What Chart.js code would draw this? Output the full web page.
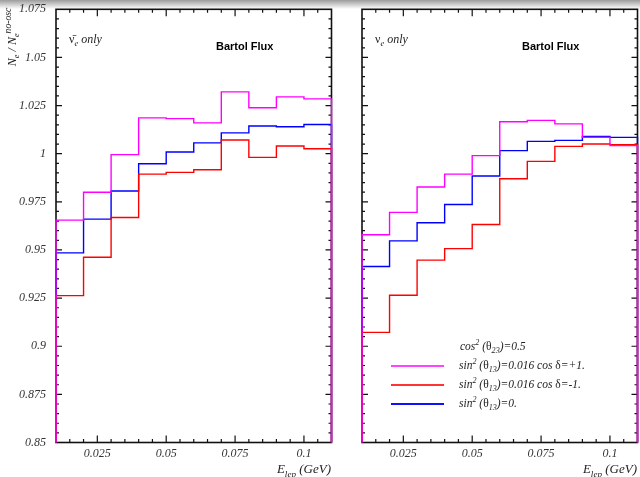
<!DOCTYPE html>
<html>
<head>
<meta charset="utf-8">
<script src="https://cdn.jsdelivr.net/npm/chart.js@4.4.0/dist/chart.umd.min.js"></script>
<style>
  body{margin:0;background:#fff;}
  #wrap{position:relative;width:640px;height:477px;overflow:hidden;font-family:"Liberation Serif",serif;color:#222;}
  #shade{position:absolute;left:0;top:0;width:640px;height:9px;background:linear-gradient(#9c9c9c,#fff);}
  canvas{position:absolute;top:0;}
  .lbl{position:absolute;white-space:nowrap;font-style:italic;line-height:1;}
  .lbl sub,.lbl sup{font-size:70%;line-height:0;}
  .up{font-style:normal;}
  .flux{position:absolute;white-space:nowrap;font-family:"Liberation Sans",sans-serif;font-weight:bold;font-size:11px;line-height:1;color:#000;}
  .key{position:absolute;height:2px;width:53px;}
</style>
</head>
<body>
<div id="wrap">
  <div id="shade"></div>
  <canvas id="left_panel" width="340" height="477" style="left:0"></canvas>
  <canvas id="right_panel" width="300" height="477" style="left:340px"></canvas>

  <div class="lbl" style="left:12px;top:37px;font-size:12px;transform:translate(-50%,-50%) rotate(-90deg);">N<sub>e</sub> / N<sub>e</sub><sup style="font-size:80%">no-osc</sup></div>

  <div class="lbl" style="left:69px;top:33px;font-size:12px;"><span class="up">&#957;&#772;</span><sub>e</sub> only</div>
  <div class="lbl" style="left:375px;top:33px;font-size:12px;"><span class="up">&#957;</span><sub>e</sub> only</div>

  <div class="flux" style="left:216px;top:41px;">Bartol Flux</div>
  <div class="flux" style="left:522px;top:41px;">Bartol Flux</div>

  <div class="lbl" style="right:309px;top:462px;font-size:13px;">E<sub>lep</sub> (GeV)</div>
  <div class="lbl" style="right:3px;top:462px;font-size:13px;">E<sub>lep</sub> (GeV)</div>

  <div class="lbl" style="left:460px;top:341px;font-size:11.5px;">cos<sup>2</sup> (<span class="up">&#952;</span><sub>23</sub>)=0.5</div>
  <div class="key" style="left:391px;top:365px;background:#ff44ff;"></div>
  <div class="lbl" style="left:459px;top:360px;font-size:11.5px;">sin<sup>2</sup> (<span class="up">&#952;</span><sub>13</sub>)=0.016 cos <span class="up">&#948;</span>=+1.</div>
  <div class="key" style="left:391px;top:384px;background:#ff3333;"></div>
  <div class="lbl" style="left:459px;top:379px;font-size:11.5px;">sin<sup>2</sup> (<span class="up">&#952;</span><sub>13</sub>)=0.016 cos <span class="up">&#948;</span>=-1.</div>
  <div class="key" style="left:391px;top:403px;background:#1010ff;"></div>
  <div class="lbl" style="left:459px;top:398px;font-size:11.5px;">sin<sup>2</sup> (<span class="up">&#952;</span><sub>13</sub>)=0.</div>
</div>

<script>
// bin edges of the lepton energy histogram (GeV)
const binEdges = [0.01,0.02,0.03,0.04,0.05,0.06,0.07,0.08,0.09,0.10,0.11];

// anti-nu_e only
const antiPlus  = [0.9655,0.980,0.9995,1.0186,1.0182,1.016,1.0321,1.0239,1.0295,1.0285];
const antiMinus = [0.9263,0.9462,0.9669,0.9894,0.9903,0.9917,1.0071,0.9981,1.004,1.0026];
const antiZero  = [0.9485,0.966,0.9806,0.9948,1.0009,1.0056,1.0108,1.0144,1.014,1.0152];

// nu_e only
const nuPlus  = [0.9579,0.9695,0.9827,0.9894,0.999,1.0166,1.0173,1.0155,1.0085,1.0042];
const nuMinus = [0.9072,0.9265,0.9447,0.9507,0.9632,0.987,0.996,1.0038,1.005,1.0047];
const nuZero  = [0.9414,0.9547,0.9641,0.9736,0.9884,1.0016,1.0064,1.0069,1.009,1.0085];

const xTicks = [0.025,0.05,0.075,0.1];
const xTickLabels = ['0.025','0.05','0.075','0.1'];
const yTicks = [0.85,0.875,0.9,0.925,0.95,0.975,1,1.025,1.05,1.075];
const yTickLabels = ['0.85','0.875','0.9','0.925','0.95','0.975','1','1.025','1.05','1.075'];

const xMin = 0.01, xMax = 0.11, yMin = 0.85, yMax = 1.075;

// histogram outline: start and end on the frame like ROOT does
function steps(vals){
    let pts = [{x:binEdges[0], y:yMin}];
    vals.forEach(function(v,i){ pts.push({x:binEdges[i], y:v}); });
    pts.push({x:binEdges[vals.length], y:vals[vals.length-1]});
    pts.push({x:binEdges[vals.length], y:yMin});
    return pts;
}

// frame with inward ticks on all four sides
const frameTicks = {
    id:'frameTicks',
    beforeDatasetsDraw:function(chart){
        let ctx = chart.ctx, a = chart.chartArea;
        let xs = chart.scales.x, ys = chart.scales.y;
        ctx.save();
        ctx.strokeStyle = '#111';
        ctx.lineWidth = 1.6;
        ctx.strokeRect(a.left, a.top, a.right-a.left, a.bottom-a.top);
        ctx.lineWidth = 1.2;
        ctx.beginPath();
        for(let i=1;i<20;i++){
            let v = xMin + i*0.005;
            let px = xs.getPixelForValue(v);
            let major = Math.abs(v/0.025 - Math.round(v/0.025)) < 1e-6;
            let len = major ? 7 : 3.5;
            ctx.moveTo(px, a.bottom); ctx.lineTo(px, a.bottom-len);
            ctx.moveTo(px, a.top); ctx.lineTo(px, a.top+len);
        }
        for(let i=1;i<45;i++){
            let v = yMin + i*0.005;
            let py = ys.getPixelForValue(v);
            let major = Math.abs(v/0.025 - Math.round(v/0.025)) < 1e-6;
            let len = major ? 6 : 3;
            ctx.moveTo(a.left, py); ctx.lineTo(a.left+len, py);
            ctx.moveTo(a.right, py); ctx.lineTo(a.right-len, py);
        }
        ctx.stroke();
        ctx.restore();
    }
};

function makePanel(id, plus, minus, zero, showY, yWidth, padRight){
    let ctx = document.getElementById(id).getContext('2d');
    let line = {stepped:'before', pointRadius:0, borderWidth:1.4, fill:false, clip:3};

    return new Chart(ctx,{
        type:'line',
        data:{
            datasets:[
                Object.assign({label:'cos d=+1', data:steps(plus), borderColor:'#ff00ff'}, line),
                Object.assign({label:'cos d=-1', data:steps(minus), borderColor:'#ff0000'}, line),
                Object.assign({label:'sin2=0', data:steps(zero), borderColor:'#0000ff'}, line)
            ]
        },
        options:{
            responsive:false,
            animation:false,
            layout:{ padding:{top:9.3, right:padRight, bottom:0, left:0} },
            plugins:{ legend:{display:false}, tooltip:{enabled:false} },
            scales:{
                x:{
                    type:'linear', min:xMin, max:xMax,
                    grid:{display:false, drawTicks:false},
                    border:{display:false},
                    afterBuildTicks:function(s){ s.ticks = xTicks.map(function(v){ return {value:v}; }); },
                    afterFit:function(s){ s.height = 34.5; s.paddingLeft = 0; s.paddingRight = 0; },
                    ticks:{
                        padding:4, maxRotation:0, autoSkip:false, color:'#333',
                        font:{family:'Liberation Serif', style:'italic', size:12},
                        callback:function(v){ return xTickLabels[xTicks.indexOf(v)]; }
                    }
                },
                y:{
                    type:'linear', min:yMin, max:yMax,
                    grid:{display:false, drawTicks:false},
                    border:{display:false},
                    afterBuildTicks:function(s){ s.ticks = yTicks.map(function(v){ return {value:v}; }); },
                    afterFit:function(s){ s.width = yWidth; s.paddingTop = 0; s.paddingBottom = 0; },
                    ticks:{
                        display:showY, padding:10, autoSkip:false, color:'#333',
                        font:{family:'Liberation Serif', style:'italic', size:12},
                        callback:function(v){ return yTickLabels[yTicks.indexOf(v)]; }
                    }
                }
            }
        },
        plugins:[frameTicks]
    });
}

makePanel('left_panel', antiPlus, antiMinus, antiZero, true, 56, 8.5);
makePanel('right_panel', nuPlus, nuMinus, nuZero, false, 22, 2.5);
</script>
</body>
</html>
